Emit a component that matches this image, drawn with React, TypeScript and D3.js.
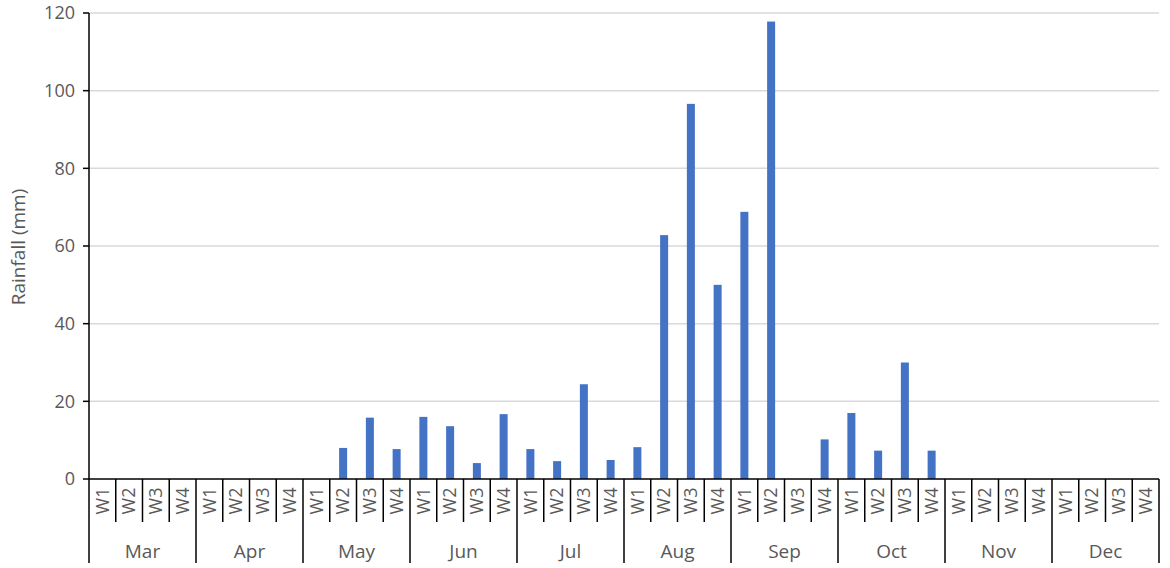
import React from "react";
import * as d3 from "d3";

const months = ["Mar", "Apr", "May", "Jun", "Jul", "Aug", "Sep", "Oct", "Nov", "Dec"];
const weeks = ["W1", "W2", "W3", "W4"];
const rainfall = [
  0, 0, 0, 0,
  0, 0, 0, 0,
  0, 8.0, 15.8, 7.7,
  16.0, 13.6, 4.1, 16.7,
  7.7, 4.6, 24.4, 4.9,
  8.2, 62.8, 96.6, 50.0,
  68.8, 117.8, 0, 10.2,
  17.0, 7.3, 30.0, 7.3,
  0, 0, 0, 0,
  0, 0, 0, 0,
];
const yTicks = [0, 20, 40, 60, 80, 100, 120];

export default function App() {
  const W = 1170, H = 568;
  const left = 89, right = 1159, top = 13, bottom = 479;
  const keys = months.flatMap((m) => weeks.map((w) => `${m}-${w}`));
  const x = d3.scaleBand().domain(keys).range([left, right]);
  const y = d3.scaleLinear().domain([0, 120]).range([bottom, top]);
  const bw = x.bandwidth();
  const barW = 8;
  const font = "'Open Sans', 'Noto Sans', sans-serif";
  const grey = "#595959";
  const weekBottom = 522, monthBottom = 563;

  return (
    <svg width={W} height={H} style={{ position: "absolute", left: 0, top: 0, background: "#fff" }}>
      {yTicks.filter((t) => t > 0).map((t) => (
        <line key={"g" + t} x1={left} x2={right} y1={y(t)} y2={y(t)} stroke="#d9d9d9" strokeWidth={1.5} />
      ))}
      {rainfall.map((v, i) =>
        v > 0 ? (
          <rect key={"b" + i} x={x(keys[i])! + bw / 2 - barW / 2} y={y(v)} width={barW} height={y(0) - y(v)} fill="#4472C4" />
        ) : null
      )}
      {/* y axis */}
      <line x1={left} x2={left} y1={top} y2={monthBottom} stroke="#000" strokeWidth={1.5} />
      {yTicks.map((t) => (
        <g key={"t" + t}>
          <line x1={left - 6} x2={left} y1={y(t)} y2={y(t)} stroke="#000" strokeWidth={1.5} />
          <text x={75} y={y(t)} dy="0.35em" textAnchor="end" fontFamily={font} fontSize={18} fill={grey}>{t}</text>
        </g>
      ))}
      <text transform={`translate(18,${(top + bottom) / 2 + 1}) rotate(-90)`} textAnchor="middle" dy="0.35em" fontFamily={font} fontSize={19} fill={grey}>Rainfall (mm)</text>
      {/* x axis */}
      <line x1={left} x2={right} y1={bottom} y2={bottom} stroke="#000" strokeWidth={1.5} />
      {keys.map((k, i) => {
        const xl = x(k)!;
        const isMonthStart = i % 4 === 0;
        return (
          <g key={"w" + k}>
            {i > 0 && (
              <line x1={xl} x2={xl} y1={bottom} y2={isMonthStart ? monthBottom : weekBottom} stroke="#000" strokeWidth={1.5} />
            )}
            <text transform={`translate(${xl + bw / 2},501) rotate(-90)`} textAnchor="middle" dy="0.35em" fontFamily={font} fontSize={18} fill={grey}>{weeks[i % 4]}</text>
          </g>
        );
      })}
      <line x1={right} x2={right} y1={bottom} y2={monthBottom} stroke="#000" strokeWidth={1.5} />
      {months.map((m) => {
        const x0 = x(`${m}-W1`)!;
        const x1 = x(`${m}-W4`)! + bw;
        return (
          <text key={"m" + m} x={(x0 + x1) / 2} y={551} dy="0.35em" textAnchor="middle" fontFamily={font} fontSize={19} fill={grey}>{m}</text>
        );
      })}
    </svg>
  );
}
